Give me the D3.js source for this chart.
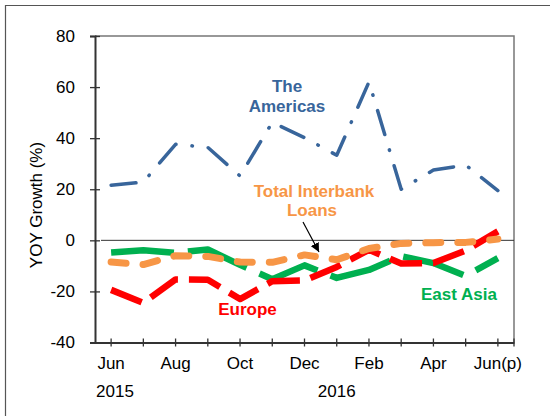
<!DOCTYPE html>
<html>
<head>
<meta charset="utf-8">
<script src="https://cdn.jsdelivr.net/npm/d3@7.9.0/dist/d3.min.js"></script>
<style>
  body { margin: 0; background: #fff; }
  svg { display: block; font-family: "Liberation Sans", Arial, sans-serif; }
</style>
</head>
<body>
<svg id="chart" width="550" height="416"></svg>
<script>
// months Jun 2015 .. Jun 2016 (p)
const months = ["Jun", "Jul", "Aug", "Sep", "Oct", "Nov", "Dec", "Jan", "Feb", "Mar", "Apr", "May", "Jun(p)"];
const monthLabels = ["Jun", "", "Aug", "", "Oct", "", "Dec", "", "Feb", "", "Apr", "", "Jun(p)"];
const yTicks = [-40, -20, 0, 20, 40, 60, 80];

// YOY growth (%)
const americas = [21.6, 22.8, 37.6, 36.4, 25.2, 46.2, 40.2, 33.3, 62, 20, 27.5, 29.5, 19.5];
const eastAsia = [-4.8, -3.9, -4.9, -3.6, -9.6, -15.2, -9.8, -14.7, -11.6, -6.2, -8.9, -13.9, -7];
const europe = [-19.4, -24.5, -15.3, -15.4, -23, -16, -15.7, -10.4, -3.7, -9.1, -8.9, -4, 3.5];
const totalLoans = [-8.5, -9.5, -6, -6.3, -8.5, -8.6, -5.7, -7.6, -3.2, -1.2, -0.9, -0.8, 0.5];

const svg = d3.select("#chart");

// outer frame
svg.append("line").attr("x1", 5.5).attr("y1", 5).attr("x2", 5.5).attr("y2", 416).attr("stroke", "#555").attr("stroke-width", 1.2);
svg.append("line").attr("x1", 5).attr("y1", 5.5).attr("x2", 550).attr("y2", 5.5).attr("stroke", "#555").attr("stroke-width", 1.2);

const plotLeft = 95, plotRight = 514, plotTop = 36, plotBottom = 342.5;

const x = d3.scaleBand().domain(d3.range(months.length)).range([plotLeft, plotRight]);
const cx = i => x(i) + x.bandwidth() / 2;
const y = d3.scaleLinear().domain([-40, 80]).range([plotBottom, plotTop]);

// plot frame (top / right)
svg.append("path")
  .attr("d", `M${plotLeft},${plotTop}H${plotRight}V${plotBottom}`)
  .attr("fill", "none").attr("stroke", "#777").attr("stroke-width", 1.5);

// zero line
svg.append("line")
  .attr("x1", plotLeft + 6).attr("x2", plotRight).attr("y1", y(0)).attr("y2", y(0))
  .attr("stroke", "#333").attr("stroke-width", 1);

// y axis
const yAxis = svg.append("g").attr("transform", `translate(${plotLeft},0)`)
  .call(d3.axisLeft(y).tickValues(yTicks).tickSize(5).tickPadding(15).tickFormat(d => String(d)));
yAxis.select(".domain").attr("stroke", "#333").attr("stroke-width", 2);
yAxis.selectAll(".tick line").attr("x2", -5).attr("x1", 5).attr("stroke", "#333").attr("stroke-width", 1.3);
yAxis.selectAll(".tick text").attr("font-size", 17).attr("fill", "#000")
  .attr("font-family", "Liberation Sans, Arial, sans-serif");

// x axis
const xAxis = svg.append("g").attr("transform", `translate(0,${plotBottom})`)
  .call(d3.axisBottom(x).tickSize(4).tickSizeOuter(0).tickFormat(i => monthLabels[i]));
xAxis.select(".domain").attr("stroke", "#333").attr("stroke-width", 2);
xAxis.selectAll(".tick line").attr("y1", -4).attr("y2", 4).attr("stroke", "#333").attr("stroke-width", 1.3);
xAxis.selectAll(".tick text").attr("y", 14).attr("font-size", 17).attr("fill", "#000")
  .attr("font-family", "Liberation Sans, Arial, sans-serif");
// end tick at right corner
svg.append("line").attr("x1", plotRight).attr("x2", plotRight).attr("y1", plotBottom - 4).attr("y2", plotBottom + 4)
  .attr("stroke", "#333").attr("stroke-width", 1.3);

// year labels
svg.append("text").attr("x", 115).attr("y", 397).attr("text-anchor", "middle").attr("font-size", 17).text("2015");
svg.append("text").attr("x", (cx(6) + cx(8)) / 2).attr("y", 397).attr("text-anchor", "middle").attr("font-size", 17).text("2016");

// y title
svg.append("text").attr("transform", "translate(42,205) rotate(-90)")
  .attr("text-anchor", "middle").attr("font-size", 17).text("YOY Growth (%)");

// series
const line = d3.line().x((d, i) => cx(i)).y(d => y(d));

function drawSeries(values, color, width, dash, cap) {
  svg.append("path")
    .datum(values)
    .attr("d", line)
    .attr("fill", "none")
    .attr("stroke", color)
    .attr("stroke-width", width)
    .attr("stroke-dasharray", dash)
    .attr("stroke-linecap", cap)
    .attr("stroke-linejoin", "round");
}

drawSeries(americas, "#38659b", 3.5, "25,16,0.5,16", "round");
drawSeries(eastAsia, "#00b050", 6.5, "63,14", "butt");
drawSeries(europe, "#ff0000", 6.5, "33,11", "butt");
drawSeries(totalLoans, "#f79646", 7, "15,17", "round");

// annotations
const ann = (txt, xx, yy, color) => svg.append("text").attr("x", xx).attr("y", yy)
  .attr("text-anchor", "middle").attr("font-size", 17).attr("font-weight", "bold")
  .attr("fill", color).text(txt);

ann("The", 287, 92, "#38659b");
ann("Americas", 287, 112, "#38659b");
ann("Total Interbank", 314, 197, "#f79646");
ann("Loans", 312, 216, "#f79646");
ann("East Asia", 459, 300, "#00b050");
ann("Europe", 247.5, 314.5, "#ff0000");

// arrow to Total Interbank Loans
svg.append("defs").append("marker")
  .attr("id", "arrow").attr("viewBox", "0 0 10 10").attr("refX", 10).attr("refY", 5)
  .attr("markerWidth", 9).attr("markerHeight", 9).attr("markerUnits", "userSpaceOnUse")
  .attr("orient", "auto")
  .append("path").attr("d", "M0,0L10,5L0,10z").attr("fill", "#000");
svg.append("line").attr("x1", 303).attr("y1", 222).attr("x2", 319).attr("y2", 252)
  .attr("stroke", "#000").attr("stroke-width", 1.2).attr("marker-end", "url(#arrow)");
</script>
</body>
</html>
